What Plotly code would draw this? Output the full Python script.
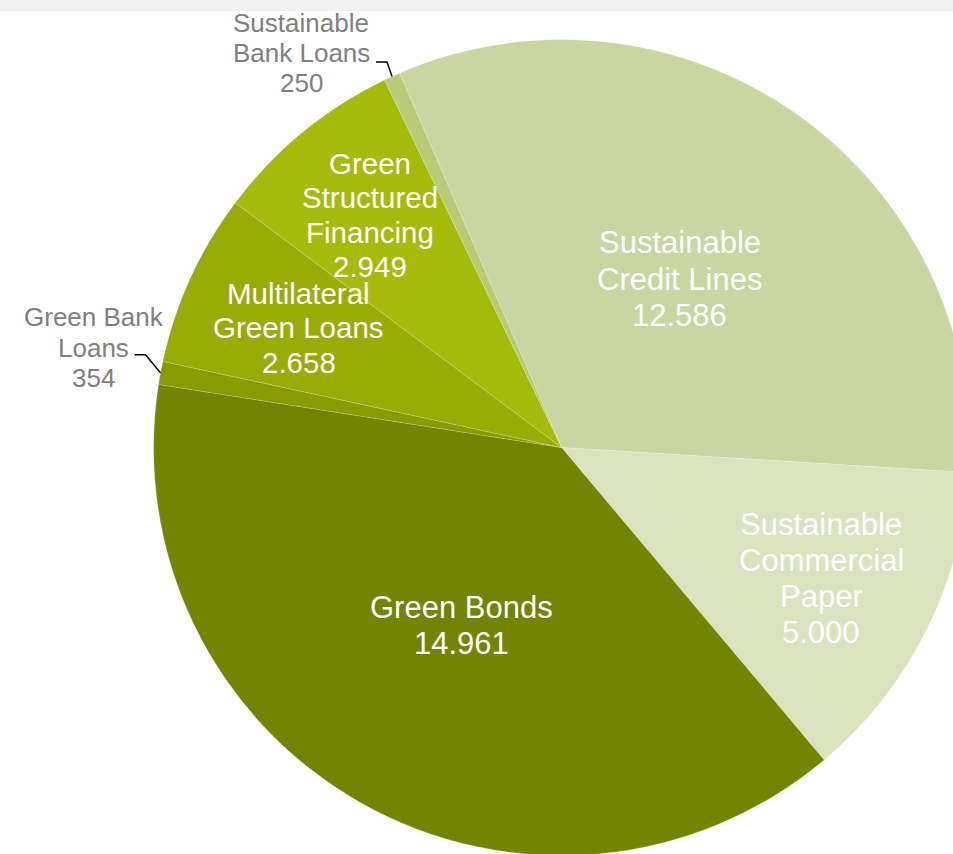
import math
import plotly.graph_objects as go

# ---------------- data ----------------
labels = ["Sustainable Credit Lines", "Sustainable Commercial Paper", "Green Bonds",
          "Green Bank Loans", "Multilateral Green Loans", "Green Structured Financing",
          "Sustainable Bank Loans"]
label_lines = [["Sustainable", "Credit Lines"], ["Sustainable", "Commercial", "Paper"],
               ["Green Bonds"], ["Green Bank", "Loans"], ["Multilateral", "Green Loans"],
               ["Green", "Structured", "Financing"], ["Sustainable", "Bank Loans"]]
values = [12586, 5000, 14961, 354, 2658, 2949, 250]

# ---------------- style ----------------
colors = ["#CAD6A1", "#DBE2C0", "#738402", "#889B03", "#99AB06", "#A6BA09", "#B9CA79"]
FONT = "Arial, Liberation Sans, sans-serif"
W, H = 980, 860           # figure is larger than the 953x854 view (pie is cropped)
VIEW_W, VIEW_H = 953, 854
CX, CY, R = 561.6, 447.6, 408.0
ROT = -23.4

# inside label placement: radius fraction, font size
inside_style = {0: (0.504, 31), 1: (0.713, 31), 2: (0.5, 31), 4: (0.708, 29.5), 5: (0.738, 29.5)}
# outside label: elbow offset from edge, horizontal length, text center offset from line end
outside_style = {3: ((-15, -18), 11, (-41, -7)), 6: ((-5, -14.5), 11, (-75, -9))}
OUT_FONT = 26
OUT_COLOR = "#808080"


def fx(px):
    return px / W


def fy(py):
    return 1 - py / H


def fmt(v):
    return f"{v:,}".replace(",", ".")


fig = go.Figure(go.Pie(
    labels=labels, values=values, sort=False, direction="clockwise", rotation=ROT,
    marker=dict(colors=colors, line=dict(color="rgba(255,255,255,0.3)", width=0.6)),
    textinfo="none", hoverinfo="label+value", showlegend=False,
    domain=dict(x=[(CX - R) / W, (CX + R) / W], y=[1 - (CY + R) / H, 1 - (CY - R) / H]),
))

total = sum(values)
annotations = []
shapes = [dict(type="rect", xref="paper", yref="paper", x0=0, x1=1, y0=fy(11), y1=1,
               fillcolor="#F2F2F2", line=dict(width=0), layer="below")]

cum = ROT
for i, v in enumerate(values):
    span = v / total * 360
    mid = math.radians(cum + span / 2)
    cum += span
    lines = label_lines[i] + [fmt(v)]
    if i in inside_style:
        frac, fs = inside_style[i]
        px = CX + frac * R * math.sin(mid)
        py = CY - frac * R * math.cos(mid)
        sp = fs * 1.17
        n = len(lines)
        for k, t in enumerate(lines):
            ly = py + (k - (n - 1) / 2) * sp
            annotations.append(dict(x=fx(px), y=fy(ly), xref="paper", yref="paper", text=t,
                                    showarrow=False, xanchor="center", yanchor="middle",
                                    font=dict(family=FONT, size=fs, color="white")))
    else:
        (edx, edy), hl, (tdx, tdy) = outside_style[i]
        x0 = CX + R * math.sin(mid)
        y0 = CY - R * math.cos(mid)
        x1, y1 = x0 + edx, y0 + edy
        x2, y2 = x1 - hl, y1
        shapes.append(dict(type="path", xref="paper", yref="paper",
                           path=f"M {fx(x0)},{fy(y0)} L {fx(x1)},{fy(y1)} L {fx(x2)},{fy(y2)}",
                           line=dict(color="black", width=1.5)))
        cx_t, cy_t = x2 + tdx, y2 + tdy
        sp = OUT_FONT * 1.17
        n = len(lines)
        for k, t in enumerate(lines):
            ly = cy_t + (k - (n - 1) / 2) * sp
            annotations.append(dict(x=fx(cx_t), y=fy(ly), xref="paper", yref="paper", text=t,
                                    showarrow=False, xanchor="center", yanchor="middle",
                                    font=dict(family=FONT, size=OUT_FONT, color=OUT_COLOR)))

fig.update_layout(
    width=W, height=H, margin=dict(l=0, r=0, t=0, b=0),
    paper_bgcolor="white", plot_bgcolor="white",
    annotations=annotations, shapes=shapes,
)

post = """
var gd = document.getElementById('{plot_id}');
var wrap = gd.parentElement;
wrap.style.width = '%dpx'; wrap.style.height = '%dpx'; wrap.style.overflow = 'hidden';
document.documentElement.style.overflow = 'hidden';
document.body.style.overflow = 'hidden';
document.body.style.margin = '0';
""" % (VIEW_W, VIEW_H)

fig.write_html("out.html", post_script=post, config={"responsive": False, "displayModeBar": False})
